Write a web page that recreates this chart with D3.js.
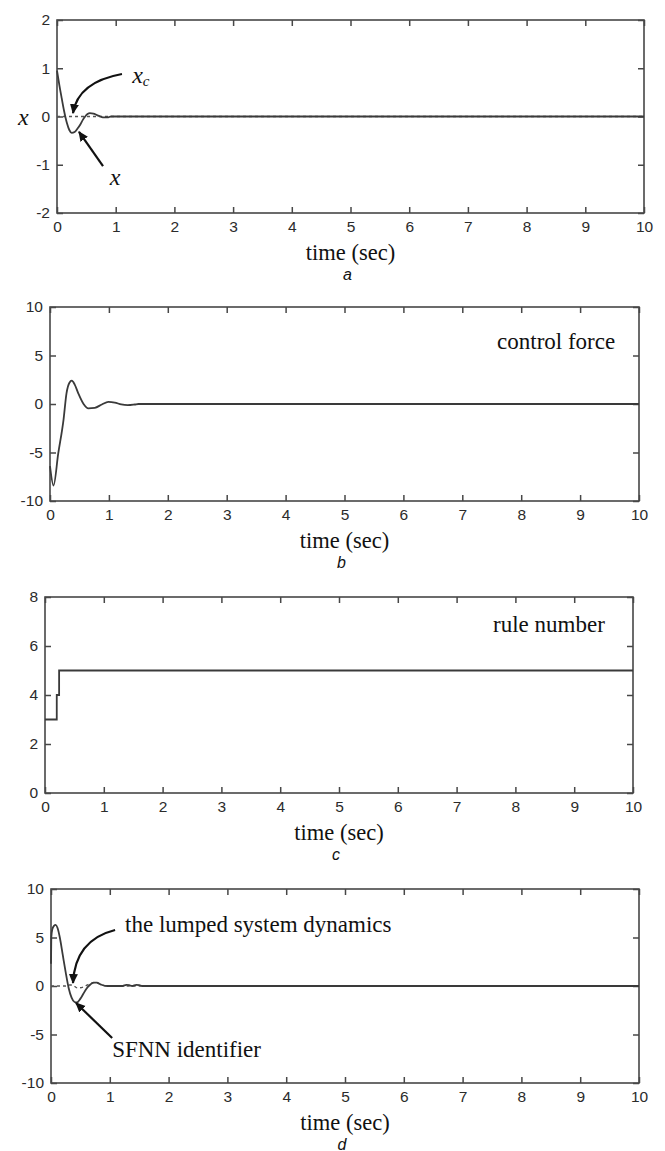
<!DOCTYPE html>
<html><head><meta charset="utf-8">
<script src="https://cdn.jsdelivr.net/npm/d3@7"></script>
<style>
html,body{margin:0;padding:0;background:#fff;}
svg{display:block;}
</style></head>
<body>
<svg id="chart" width="665" height="1151"></svg>
<script>
// ---------- data ----------
const xTicks = [0,1,2,3,4,5,6,7,8,9,10];

// panel a : state x and command xc
const aTime = [0,0.04,0.08,0.12,0.17,0.21,0.25,0.3,0.35,0.4,0.44,0.48,0.52,0.56,0.62,0.68,0.74,0.8,0.86,0.92,1.0,10];
const aX    = [0.95,0.65,0.38,0.12,-0.14,-0.28,-0.34,-0.32,-0.25,-0.16,-0.07,0,0.05,0.07,0.06,0.03,0,-0.02,-0.02,0,0,0];
const aXcTime = [0,10];
const aXc     = [0,0];
const aYTicks = [-2,-1,0,1,2];

// panel b : control force
const bTime  = [0,0.06,0.14,0.23,0.28,0.33,0.37,0.42,0.48,0.57,0.65,0.76,0.88,0.99,1.1,1.21,1.32,1.44,1.5,10];
const bForce = [-6.4,-8.4,-5.1,-1.6,1.1,2.2,2.4,2.0,1.1,0,-0.45,-0.4,-0.05,0.22,0.15,-0.05,-0.12,-0.05,0,0];
const bYTicks = [-10,-5,0,5,10];

// panel c : rule number
const cTime  = [0,0.2,0.24,10];
const cRules = [3,4,5,5];
const cYTicks = [0,2,4,6,8];

// panel d : SFNN identifier (solid) and lumped system dynamics (dashed)
const dTime  = [0,0.005,0.02,0.05,0.08,0.11,0.15,0.2,0.25,0.3,0.35,0.4,0.44,0.5,0.55,0.6,0.66,0.72,0.78,0.85,0.92,1.0,1.22,1.28,1.33,1.38,1.45,1.5,1.55,10];
const dSFNN  = [2.3,5,5.8,6.2,6.3,6.0,5.0,3.2,1.4,-0.2,-1.2,-1.65,-1.7,-1.3,-0.8,-0.3,0.1,0.35,0.35,0.15,0.02,0,0,0.12,0.08,0,0.12,0.1,0,0];
const dLumpTime = [0,0.25,0.3,0.36,0.45,0.55,0.65,0.75,0.85,0.95,10];
const dLump     = [0,0,0.1,0.1,-0.2,-0.1,0.2,0.35,0.15,0,0];
const dYTicks = [-10,-5,0,5,10];

// ---------- drawing ----------
const svg = d3.select("#chart");
const INK = "#2b2b2b";
const FRAME = "#474747";
const fmt = d => String(d);   // plain hyphen-minus like the original

svg.append("defs").append("marker")
  .attr("id","head").attr("viewBox","0 0 10 10").attr("refX",9).attr("refY",5)
  .attr("markerWidth",10).attr("markerHeight",10).attr("markerUnits","userSpaceOnUse")
  .attr("orient","auto")
  .append("path").attr("d","M0,0.5 L10,5 L0,9.5 Z").attr("fill","#111");

function panel(box, yDomain, yTicks, letter){
  const x = d3.scaleLinear().domain([0,10]).range([box.l, box.r]);
  const y = d3.scaleLinear().domain(yDomain).range([box.b, box.t]);
  const g = svg.append("g");
  g.append("rect").attr("x",box.l).attr("y",box.t).attr("width",box.r-box.l).attr("height",box.b-box.t)
    .attr("fill","none").attr("stroke",FRAME).attr("stroke-width",1.6);
  const TL = 6;
  const gx = g.append("g").attr("transform",`translate(0,${box.b})`)
    .call(d3.axisBottom(x).tickValues(xTicks).tickSize(-TL).tickPadding(8).tickFormat(fmt));
  const gxt = g.append("g").attr("transform",`translate(0,${box.t})`)
    .call(d3.axisTop(x).tickValues(xTicks).tickSize(-TL).tickFormat(""));
  const gy = g.append("g").attr("transform",`translate(${box.l},0)`)
    .call(d3.axisLeft(y).tickValues(yTicks).tickSize(-TL).tickPadding(7).tickFormat(fmt));
  const gyr = g.append("g").attr("transform",`translate(${box.r},0)`)
    .call(d3.axisRight(y).tickValues(yTicks).tickSize(-TL).tickFormat(""));
  [gx,gxt,gy,gyr].forEach(s=>{
    s.select(".domain").remove();
    s.selectAll(".tick line").attr("stroke",FRAME).attr("stroke-width",1.5);
    s.selectAll("text").attr("fill",INK).attr("font-family","'Liberation Sans', Arial, sans-serif").attr("font-size",15.5);
  });
  gx.selectAll("text").attr("dy","0.71em");
  const cx = (box.l+box.r)/2;
  g.append("text").attr("x",cx).attr("y",box.b+39).attr("text-anchor","middle").attr("dominant-baseline","central")
    .attr("font-family","'Liberation Serif', 'Times New Roman', serif").attr("font-size",22.5).attr("fill","#111").text("time (sec)");
  g.append("text").attr("x",cx-3).attr("y",box.b+61).attr("text-anchor","middle").attr("dominant-baseline","central")
    .attr("font-family","'Liberation Sans', Arial, sans-serif").attr("font-style","italic").attr("font-size",16).attr("fill","#111").text(letter);
  return {x,y,g};
}

function line(p, xs, ys, opts={}){
  const pts = xs.map((t,i)=>[t, ys[i]]);
  const gen = d3.line().x(d=>p.x(d[0])).y(d=>p.y(d[1])).curve(opts.curve || d3.curveMonotoneX);
  p.g.append("path").attr("d",gen(pts)).attr("fill","none").attr("stroke",opts.color||"#3a3a3a")
    .attr("stroke-width",opts.w||1.8).attr("stroke-dasharray",opts.dash||null);
}

function label(p, t, v, txt, size){
  return p.g.append("text").attr("x",p.x(t)).attr("y",p.y(v)).attr("dominant-baseline","central")
    .attr("font-family","'Liberation Serif', 'Times New Roman', serif").attr("font-size",size||22).attr("fill","#111").text(txt);
}

function arrow(p, s, c, e){
  let d;
  if(c) d = `M${p.x(s[0])},${p.y(s[1])} Q${p.x(c[0])},${p.y(c[1])} ${p.x(e[0])},${p.y(e[1])}`;
  else d = `M${p.x(s[0])},${p.y(s[1])} L${p.x(e[0])},${p.y(e[1])}`;
  p.g.append("path").attr("d",d).attr("fill","none").attr("stroke","#111").attr("stroke-width",2.2).attr("marker-end","url(#head)");
}

// panel a
const pa = panel({l:57,r:644,t:20,b:213},[-2,2],aYTicks,"a");
line(pa, aXcTime, aXc, {dash:"3,3", w:1.4, color:"#555"});
line(pa, aTime, aX);
arrow(pa,[1.107,0.88],[0.358,0.715],[0.273,0.07]);
arrow(pa,[0.784,-1.03],null,[0.375,-0.32]);
const xc = label(pa, 1.28, 0.86, "", 24);
xc.append("tspan").attr("font-style","italic").text("x");
xc.append("tspan").attr("font-style","italic").attr("font-size",15).attr("dy",6).text("c");
label(pa, 0.9, -1.25, "x", 24).attr("font-style","italic");
pa.g.append("text").attr("x",pa.x(0)-39).attr("y",pa.y(0)).attr("dominant-baseline","central")
  .attr("font-family","'Liberation Serif', 'Times New Roman', serif").attr("font-style","italic").attr("font-size",24).attr("fill","#111").text("x");

// panel b
const pb = panel({l:50,r:639,t:307,b:501},[-10,10],bYTicks,"b");
line(pb, bTime, bForce);
label(pb, 7.59, 6.4, "control force", 23);

// panel c
const pc = panel({l:45,r:633,t:597,b:793},[0,8],cYTicks,"c");
line(pc, cTime, cRules, {curve:d3.curveStepAfter});
label(pc, 7.62, 6.86, "rule number", 23);

// panel d
const pd = panel({l:51,r:639,t:889,b:1083},[-10,10],dYTicks,"d");
line(pd, dLumpTime, dLump, {dash:"3,3", w:1.4, color:"#555"});
line(pd, dTime, dSFNN);
arrow(pd,[1.09,5.77],[0.41,4.74],[0.374,0.31]);
arrow(pd,[1.04,-5.36],null,[0.425,-1.75]);
label(pd, 1.26, 6.3, "the lumped system dynamics", 23);
label(pd, 1.04, -6.5, "SFNN identifier", 23);
</script>
</body></html>
